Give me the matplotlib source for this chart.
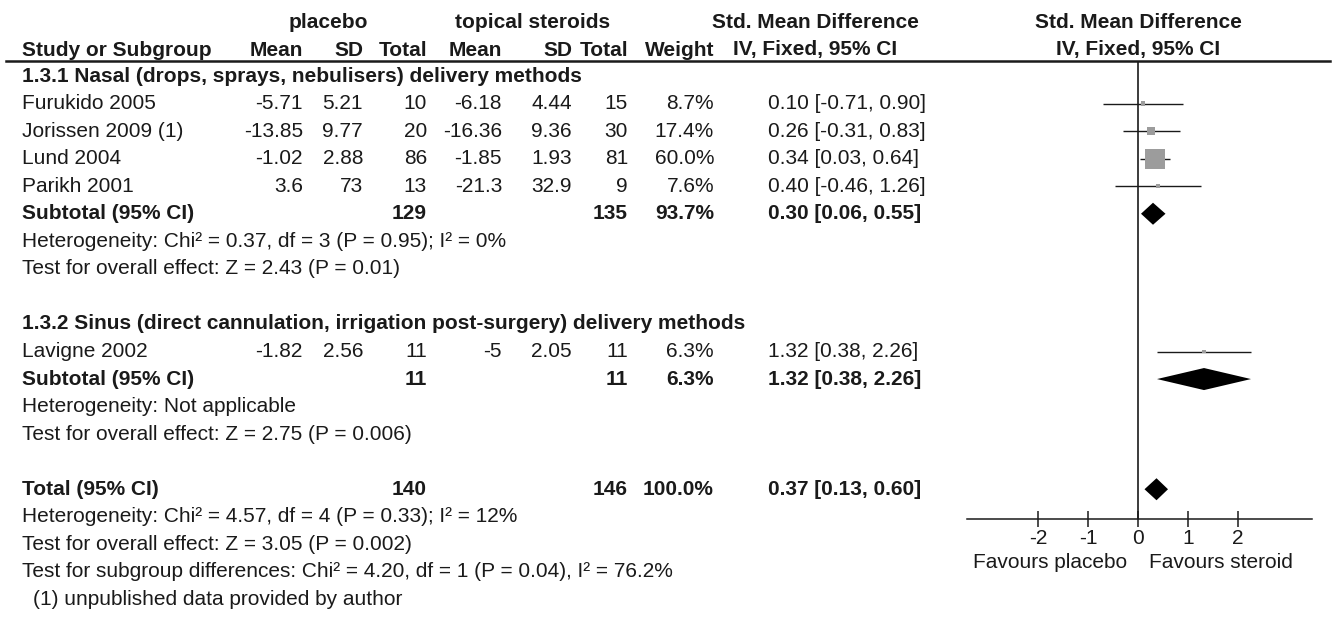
import matplotlib.pyplot as plt

plt.rcParams['font.family'] = ['Liberation Sans', 'DejaVu Sans']

font_size = 15
ink = '#1a1a1a'
square_grey = '#9c9c9c'

# individual studies
studies = ["Furukido 2005", "Jorissen 2009 (1)", "Lund 2004", "Parikh 2001", "Lavigne 2002"]
placebo_mean = [-5.71, -13.85, -1.02, 3.6, -1.82]
placebo_sd = [5.21, 9.77, 2.88, 73, 2.56]
placebo_n = [10, 20, 86, 13, 11]
steroid_mean = [-6.18, -16.36, -1.85, -21.3, -5]
steroid_sd = [4.44, 9.36, 1.93, 32.9, 2.05]
steroid_n = [15, 30, 81, 9, 11]
weights = [8.7, 17.4, 60.0, 7.6, 6.3]
smd = [0.10, 0.26, 0.34, 0.40, 1.32]
ci_low = [-0.71, -0.31, 0.03, -0.46, 0.38]
ci_high = [0.90, 0.83, 0.64, 1.26, 2.26]
study_rows = [1, 2, 3, 4, 10]

# subtotals and total
pooled_labels = ["Subtotal (95% CI)", "Subtotal (95% CI)", "Total (95% CI)"]
pooled_placebo_n = [129, 11, 140]
pooled_steroid_n = [135, 11, 146]
pooled_weight = [93.7, 6.3, 100.0]
pooled_smd = [0.30, 1.32, 0.37]
pooled_low = [0.06, 0.38, 0.13]
pooled_high = [0.55, 2.26, 0.60]
pooled_rows = [5, 11, 15]

group_titles = ["1.3.1 Nasal (drops, sprays, nebulisers) delivery methods",
                "1.3.2 Sinus (direct cannulation, irrigation post-surgery) delivery methods"]
group_rows = [0, 9]

notes = ["Heterogeneity: Chi\u00b2 = 0.37, df = 3 (P = 0.95); I\u00b2 = 0%",
         "Test for overall effect: Z = 2.43 (P = 0.01)",
         "Heterogeneity: Not applicable",
         "Test for overall effect: Z = 2.75 (P = 0.006)",
         "Heterogeneity: Chi\u00b2 = 4.57, df = 4 (P = 0.33); I\u00b2 = 12%",
         "Test for overall effect: Z = 3.05 (P = 0.002)",
         "Test for subgroup differences: Chi\u00b2 = 4.20, df = 1 (P = 0.04), I\u00b2 = 76.2%"]
note_rows = [6, 7, 12, 13, 16, 17, 18]
footnote = "(1) unpublished data provided by author"
footnote_row = 19

x_ticks = [-2, -1, 0, 1, 2]

# layout in pixels
W, H = 1335, 619
row0_y = 76
row_h = 27.55
left_x = 22
col_right = [303, 363, 427, 502, 572, 628, 714]
ci_head_x = 815
ci_left = 768
plot_head_x = 1138
head1_y = 23
head2_y = 50
rule_y = 61
axis_y = 519
plot_left, plot_right = 967, 1312
xmin, xmax = -3.42, 3.48


def ypx(row):
  return row0_y + row_h * row


def fmt(v):
  return f"{v:g}"


fig = plt.figure(figsize=(W / 100, H / 100), dpi=100)
tax = fig.add_axes([0, 0, 1, 1])
tax.set_xlim(0, W)
tax.set_ylim(H, 0)
tax.axis('off')

def txt(x, y, s, ha='left', bold=False):
  tax.text(x, y, s, ha=ha, va='center', fontsize=font_size, color=ink,
           fontweight='bold' if bold else 'normal')

# header
txt(328, head1_y, "placebo", 'center', True)
txt(533, head1_y, "topical steroids", 'center', True)
txt(ci_head_x, head1_y, "Std. Mean Difference", 'center', True)
txt(plot_head_x, head1_y, "Std. Mean Difference", 'center', True)
txt(left_x, head2_y, "Study or Subgroup", bold=True)
for x, s in zip(col_right, ["Mean", "SD", "Total", "Mean", "SD", "Total", "Weight"]):
  txt(x, head2_y, s, 'right', True)
txt(ci_head_x, head2_y, "IV, Fixed, 95% CI", 'center', True)
txt(plot_head_x, head2_y, "IV, Fixed, 95% CI", 'center', True)
tax.plot([6, 1330], [rule_y, rule_y], color=ink, lw=1.8)

for t, r in zip(group_titles, group_rows):
  txt(left_x, ypx(r), t, bold=True)

for i, r in enumerate(study_rows):
  y = ypx(r)
  txt(left_x, y, studies[i])
  vals = [fmt(placebo_mean[i]), fmt(placebo_sd[i]), str(placebo_n[i]),
          fmt(steroid_mean[i]), fmt(steroid_sd[i]), str(steroid_n[i]),
          f"{weights[i]:.1f}%"]
  for x, s in zip(col_right, vals):
    txt(x, y, s, 'right')
  txt(ci_left, y, f"{smd[i]:.2f} [{ci_low[i]:.2f}, {ci_high[i]:.2f}]")

for i, r in enumerate(pooled_rows):
  y = ypx(r)
  txt(left_x, y, pooled_labels[i], bold=True)
  txt(col_right[2], y, str(pooled_placebo_n[i]), 'right', True)
  txt(col_right[5], y, str(pooled_steroid_n[i]), 'right', True)
  txt(col_right[6], y, f"{pooled_weight[i]:.1f}%", 'right', True)
  txt(ci_left, y, f"{pooled_smd[i]:.2f} [{pooled_low[i]:.2f}, {pooled_high[i]:.2f}]", bold=True)

for t, r in zip(notes, note_rows):
  txt(left_x, ypx(r), t)
txt(left_x + 11, ypx(footnote_row), footnote)

# forest panel
fax = fig.add_axes([plot_left / W, 1 - axis_y / H, (plot_right - plot_left) / W, (axis_y - rule_y) / H])
fax.set_facecolor('none')
fax.set_xlim(xmin, xmax)
fax.set_ylim((axis_y - row0_y) / row_h, (rule_y - row0_y) / row_h)
for side in ['top', 'left', 'right']:
  fax.spines[side].set_visible(False)
fax.spines['bottom'].set_color(ink)
fax.spines['bottom'].set_linewidth(1.1)
fax.set_yticks([])
fax.set_xticks(x_ticks)
fax.set_xticklabels([str(t) for t in x_ticks], fontsize=font_size, color=ink)
fax.tick_params(axis='x', direction='inout', length=11, width=1.1, color=ink, pad=2)
fax.axvline(0, color=ink, lw=1.2)

fax.hlines(study_rows, ci_low, ci_high, color=ink, lw=1.0)
sides = [20 * (w / 60.0) ** 0.75 for w in weights]
fax.scatter(smd, study_rows, marker='s', s=[(p * 0.72) ** 2 for p in sides],
            color=square_grey, edgecolors='none', zorder=3)

half = 0.4
for e, lo, hi, r in zip(pooled_smd, pooled_low, pooled_high, pooled_rows):
  fax.fill([lo, e, hi, e], [r, r - half, r, r + half], color='black', lw=0, zorder=4)

txt(1127, 562, "Favours placebo", 'right')
txt(1149, 562, "Favours steroid")

fig.savefig("out.png", dpi=100, facecolor='white')
